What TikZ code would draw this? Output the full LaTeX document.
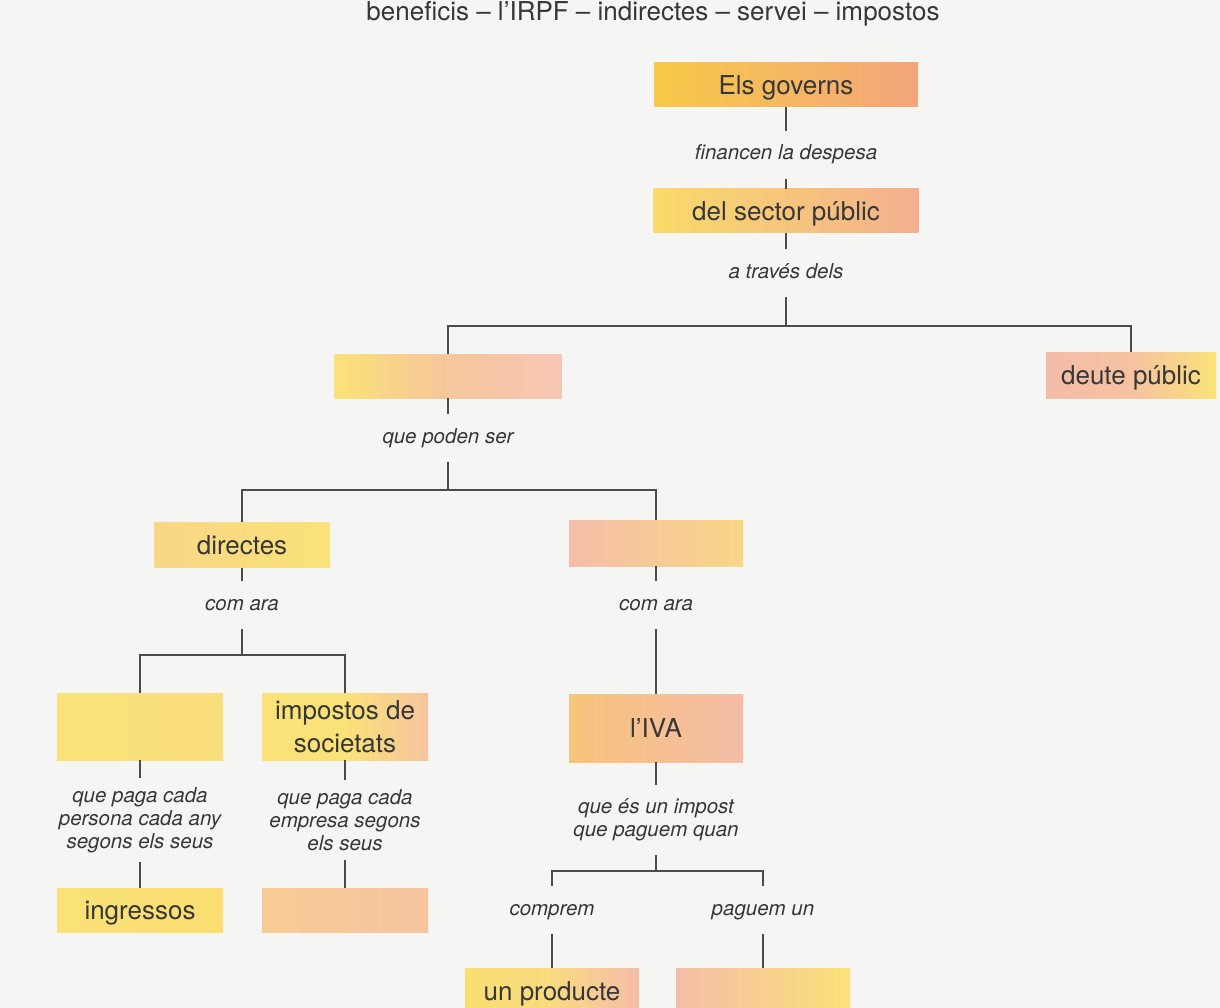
\documentclass[tikz,border=0pt]{standalone}
\usepackage{fontspec}
\setmainfont{TeX Gyre Heros}
\usetikzlibrary{positioning}
\definecolor{paper}{RGB}{245,245,243}
\definecolor{ink}{RGB}{55,55,55}
\definecolor{rule}{RGB}{75,75,75}
\definecolor{gold}{RGB}{247,201,72}
\definecolor{lemon}{RGB}{250,226,120}
\definecolor{peach}{RGB}{243,166,122}
\definecolor{rose}{RGB}{245,188,168}
\tikzset{
  box/.style      = {inner sep=0pt, text=ink, align=center, font=\fontsize{26}{33}\selectfont},
  onebox/.style   = {box, text height=22pt, text depth=3pt},
  linkword/.style = {text=ink, align=center, inner xsep=2pt, inner ysep=14pt, font=\itshape\fontsize{20.5}{23}\selectfont},
  linkone/.style  = {linkword, text height=15pt, text depth=5pt},
  tie/.style      = {draw=rule, line width=1.3pt},
}

\begin{document}
\begin{tikzpicture}[x=1pt,y=-1pt]
    \fill[paper] (0,0) rectangle (1220,1008);
    \useasboundingbox (0,0) rectangle (1220,1008);

    \node[text=ink, font=\fontsize{26}{30}\selectfont, anchor=base east] (wordlist) at (943,21) {beneficis – l’IRPF – indirectes – servei – impostos};

    \node[onebox, minimum width=264, minimum height=44, left color=gold, right color=peach] (governs) at (786,85) {Els governs};
    \node[linkone] (fin) at (786,155) {financen la despesa};
    \node[onebox, minimum width=265, minimum height=44, left color=lemon!70!gold, right color=peach!55!rose] (sector) at (786,211) {del sector públic};
    \node[linkone] (trav) at (786,273) {a través dels};
    \coordinate (f1) at (786,326);

    \node[onebox, minimum width=227, minimum height=44, left color=lemon, right color=rose!85!white, middle color=rose!75!lemon] (tipus) at (448,376) {};
    \node[onebox, minimum width=170, minimum height=46, left color=rose, right color=lemon, middle color=rose!85!lemon] (deute) at (1131,375) {deute públic};
    \node[linkone] (poden) at (448,438) {que poden ser};
    \coordinate (f2) at (448,490);

    \node[onebox, minimum width=175, minimum height=45, left color=lemon!70!rose, right color=lemon] (directes) at (242,545) {directes};
    \node[onebox, minimum width=174, minimum height=46, left color=rose, right color=lemon!70!rose] (indir) at (656,543) {};
    \node[linkone] (comaraL) at (242,605) {com ara};
    \node[linkone] (comaraR) at (656,605) {com ara};
    \coordinate (f3) at (242,655);

    \node[box, minimum width=166, minimum height=67, left color=lemon, right color=lemon!90!rose] (irpf) at (140,726.5) {};
    \node[box, minimum width=166, minimum height=67, left color=lemon, right color=rose!80!lemon, middle color=lemon] (societats) at (345,726.5) {impostos de\\societats};
    \node[onebox, minimum width=174, minimum height=68, left color=peach!50!lemon, right color=rose] (iva) at (656,728) {l’IVA};

    \node[linkword, inner ysep=9pt] (lblP) at (140,820) {que paga cada\\persona cada any\\segons els seus};
    \node[linkword, inner ysep=9pt] (lblE) at (345,820) {que paga cada\\empresa segons\\els seus};
    \node[linkword] (quan) at (656,820) {que és un impost\\que paguem quan};
    \coordinate (f4) at (656,871);

    \node[onebox, minimum width=166, minimum height=44, left color=lemon, right color=lemon!85!gold] (ingressos) at (140,910) {ingressos};
    \node[onebox, minimum width=166, minimum height=44, left color=rose!60!lemon, right color=rose!80!lemon] (benef) at (345,910) {};
    \node[linkone] (comprem) at (552,910) {comprem};
    \node[linkone] (paguem) at (763,910) {paguem un};

    \node[onebox, minimum width=174, minimum height=45, left color=lemon!85!gold, right color=rose, middle color=lemon!80!rose] (producte) at (552,990.5) {un producte};
    \node[onebox, minimum width=174, minimum height=45, left color=rose, right color=lemon] (servei) at (763,990.5) {};

    \path (governs) edge[tie] (fin);
    \path (fin) edge[tie] (sector);
    \path (sector) edge[tie] (trav);
    \path (trav) edge[tie] (f1);
    \draw[tie] (tipus) |- (f1) -| (deute);
    \path (tipus) edge[tie] (poden);
    \path (poden) edge[tie] (f2);
    \draw[tie] (directes) |- (f2) -| (indir);
    \path (directes) edge[tie] (comaraL);
    \path (comaraL) edge[tie] (f3);
    \draw[tie] (irpf) |- (f3) -| (societats);
    \path (indir) edge[tie] (comaraR);
    \path (comaraR) edge[tie] (iva);
    \path (irpf) edge[tie] (lblP);
    \path (lblP) edge[tie] (ingressos);
    \path (societats) edge[tie] (lblE);
    \path (lblE) edge[tie] (benef);
    \path (iva) edge[tie] (quan);
    \path (quan) edge[tie] (f4);
    \draw[tie] (comprem) |- (f4) -| (paguem);
    \path (comprem) edge[tie] (producte);
    \path (paguem) edge[tie] (servei);
\end{tikzpicture}
\end{document}
